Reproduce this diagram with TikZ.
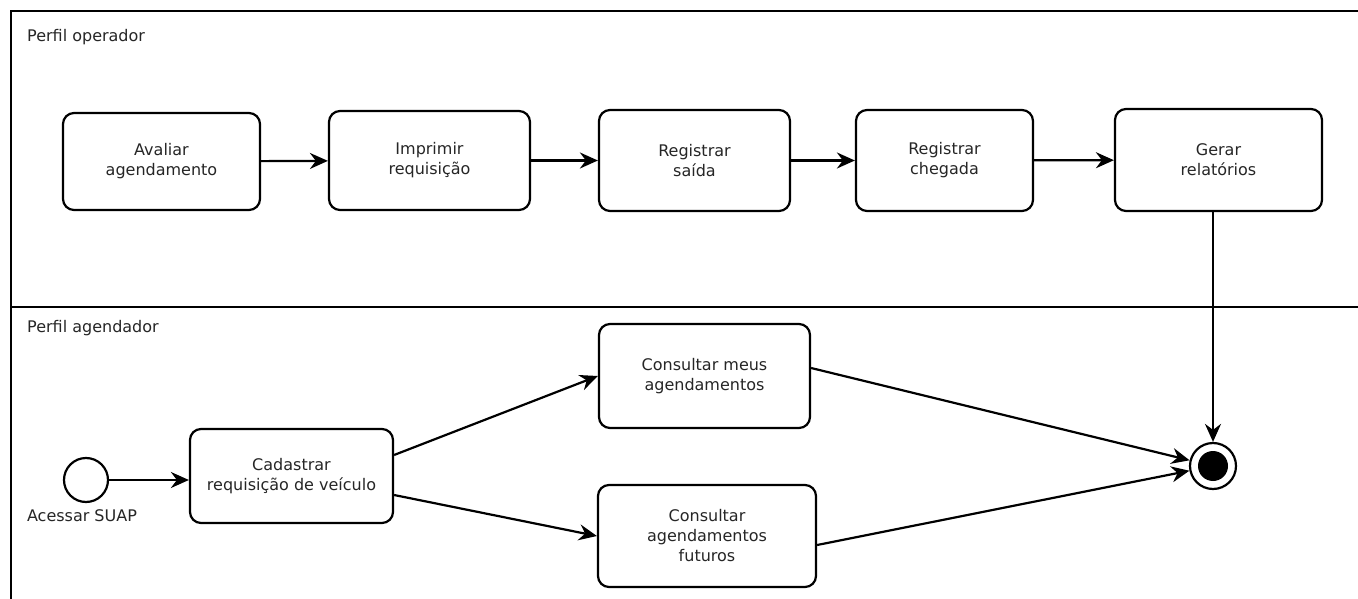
\documentclass[tikz,border=0pt]{standalone}
\usepackage{fontspec}
\setmainfont{DejaVu Sans}
\usetikzlibrary{arrows.meta}
\begin{document}
\begin{tikzpicture}[x=1pt,y=-1pt,
  act/.style={draw, line width=2.2pt, rounded corners=11pt, align=center, font=\fontsize{16}{20}\selectfont, text=black!85, inner sep=0pt},
  flow/.style={line width=2.2pt, -{Stealth[length=18pt,width=16pt,inset=6pt]}},
  lane/.style={line width=2.2pt},
  lbl/.style={font=\fontsize{16}{19}\selectfont, text=black!85, anchor=west, inner sep=0pt}]
\useasboundingbox (0,0) rectangle (1358,599);
\fill[white] (0,0) rectangle (1358,599);
% swimlanes
\draw[lane] (11,599) -- (11,11) -- (1358,11);
\draw[lane] (11,307) -- (1358,307);
\node[lbl] (l1) at (27,37) {Perfil operador};
\node[lbl] (l2) at (27,328) {Perfil agendador};
% operator lane
\node[act, minimum width=197pt, minimum height=97pt] (aval) at (161.5,161.5) {Avaliar\\agendamento};
\node[act, minimum width=201pt, minimum height=99pt] (impr) at (429.5,160.5) {Imprimir\\requisição};
\node[act, minimum width=191pt, minimum height=101pt] (said) at (694.5,160.5) {Registrar\\saída};
\node[act, minimum width=177pt, minimum height=101pt] (cheg) at (944.5,160.5) {Registrar\\chegada};
\node[act, minimum width=207pt, minimum height=102pt] (gera) at (1218.5,160) {Gerar\\relatórios};
\draw[flow] (aval) -- (impr);
\draw[flow] (impr) -- (said);
\draw[flow] (said) -- (cheg);
\draw[flow] (cheg) -- (gera);
% scheduler lane
\node[draw, circle, line width=2.2pt, minimum size=44pt, inner sep=0pt] (ini) at (86,480) {};
\node[lbl, anchor=center] (inil) at (82,516) {Acessar SUAP};
\node[act, minimum width=203pt, minimum height=94pt] (cad) at (291.5,476) {Cadastrar\\requisição de veículo};
\node[act, minimum width=211pt, minimum height=104pt] (meus) at (704.5,376) {Consultar meus\\agendamentos};
\node[act, minimum width=218pt, minimum height=102pt] (fut) at (707,536) {Consultar\\agendamentos\\futuros};
\node[draw, circle, line width=2.2pt, minimum size=46pt, inner sep=0pt] (fin) at (1213,466) {};
\fill (fin.center) circle (15pt);
\draw[flow] (ini) -- (ini -| cad.west);
\draw[flow] ([yshift=21pt]cad.east) -- (meus.west);
\draw[flow] ([yshift=-19pt]cad.east) -- (fut.west);
\draw[flow] ([yshift=8pt]meus.east) -- (fin);
\draw[flow] ([yshift=-9pt]fut.east) -- (fin);
\draw[flow] (gera.south -| fin) -- (fin);
\end{tikzpicture}
\end{document}
